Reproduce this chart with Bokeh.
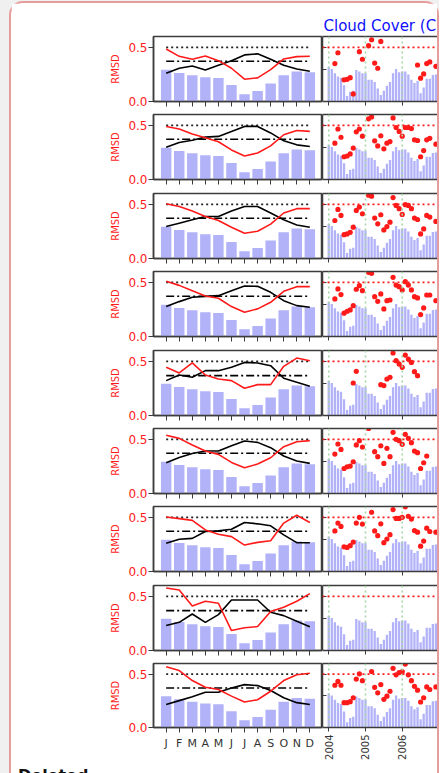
import math
from bokeh.plotting import figure
from bokeh.layouts import column, row
from bokeh.models import FixedTicker, Span, NumeralTickFormatter, LinearAxis, Title, Div
from bokeh.embed import file_html
from bokeh.resources import INLINE

nan = float("nan")

# ---------------- data ----------------
title_text = "Cloud Cover (C"
footer_text = "Deleted"
months = ["J", "F", "M", "A", "M", "J", "J", "A", "S", "O", "N", "D"]
month_index = list(range(1, 13))
month_bars = [0.294, 0.264, 0.242, 0.224, 0.218, 0.153, 0.067, 0.098, 0.166, 0.242, 0.276, 0.270]
threshold = 0.5
dashdot_levels = [0.371, 0.372, 0.372, 0.372, 0.368, 0.372, 0.372, 0.368, 0.370]

rmsd_monthly = [
    [0.485, 0.417, 0.390, 0.420, 0.377, 0.307, 0.206, 0.218, 0.294, 0.393, 0.414, 0.417],
    [0.490, 0.466, 0.420, 0.385, 0.348, 0.273, 0.217, 0.245, 0.310, 0.413, 0.453, 0.444],
    [0.506, 0.480, 0.438, 0.388, 0.350, 0.289, 0.233, 0.252, 0.317, 0.420, 0.460, 0.460],
    [0.509, 0.472, 0.423, 0.374, 0.353, 0.276, 0.224, 0.255, 0.316, 0.417, 0.460, 0.460],
    [0.445, 0.393, 0.485, 0.374, 0.337, 0.322, 0.252, 0.285, 0.285, 0.454, 0.530, 0.506],
    [0.537, 0.509, 0.448, 0.392, 0.361, 0.287, 0.238, 0.272, 0.330, 0.432, 0.478, 0.488],
    [0.503, 0.488, 0.472, 0.384, 0.344, 0.322, 0.244, 0.269, 0.284, 0.447, 0.519, 0.453],
    [0.577, 0.558, 0.411, 0.454, 0.436, 0.184, 0.210, 0.221, 0.360, 0.400, 0.455, 0.525],
    [0.570, 0.534, 0.440, 0.377, 0.356, 0.294, 0.239, 0.260, 0.340, 0.440, 0.494, 0.509],
]
other_monthly = [
    [0.260, 0.307, 0.328, 0.290, 0.334, 0.377, 0.430, 0.440, 0.390, 0.334, 0.300, 0.280],
    [0.298, 0.342, 0.363, 0.391, 0.398, 0.444, 0.490, 0.490, 0.430, 0.357, 0.320, 0.304],
    [0.295, 0.326, 0.357, 0.388, 0.388, 0.438, 0.480, 0.480, 0.420, 0.357, 0.310, 0.289],
    [0.276, 0.322, 0.362, 0.370, 0.377, 0.423, 0.466, 0.463, 0.408, 0.331, 0.285, 0.270],
    [0.322, 0.374, 0.353, 0.414, 0.414, 0.445, 0.490, 0.485, 0.460, 0.344, 0.307, 0.270],
    [0.284, 0.333, 0.370, 0.392, 0.392, 0.441, 0.485, 0.472, 0.423, 0.346, 0.300, 0.278],
    [0.260, 0.297, 0.306, 0.369, 0.375, 0.390, 0.453, 0.440, 0.422, 0.338, 0.266, 0.266],
    [0.230, 0.260, 0.337, 0.260, 0.331, 0.466, 0.466, 0.466, 0.353, 0.322, 0.270, 0.220],
    [0.215, 0.252, 0.288, 0.331, 0.331, 0.371, 0.402, 0.393, 0.347, 0.279, 0.233, 0.215],
]

start_year = 2004
year_ticks = [2004, 2005, 2006, 2007]
right_yticks = [0.3, 0.5]
ts_bars = [
    0.32, 0.30, 0.26, 0.23, 0.22, 0.15, 0.05, 0.09, 0.10, 0.29, 0.276, 0.26,
    0.26, 0.20, 0.20, 0.18, 0.12, 0.06, 0.10, 0.145, 0.18, 0.26, 0.30, 0.27,
    0.276, 0.276, 0.25, 0.20, 0.17, 0.19, 0.077, 0.13, 0.21, 0.21, 0.245, 0.25,
]
rmsd_ts = [
    [nan, nan, 0.350, 0.450, nan, 0.200, 0.205, 0.220, 0.070, nan, 0.460, 0.390,
     nan, 0.515, 0.570, 0.355, 0.307, 0.555, nan, nan, nan, nan, nan, nan,
     nan, nan, nan, nan, nan, 0.337, 0.215, 0.255, 0.350, 0.365, nan, 0.325],
    [nan, nan, 0.335, 0.466, 0.390, 0.210, 0.217, 0.236, 0.290, 0.440, 0.466, 0.400,
     nan, 0.560, 0.578, 0.357, 0.310, 0.404, 0.283, 0.335, 0.350, 0.568, 0.480, 0.444,
     0.400, 0.480, 0.480, 0.470, 0.366, 0.360, 0.210, 0.267, 0.366, 0.380, nan, 0.326],
    [nan, nan, 0.351, 0.453, 0.398, 0.220, 0.227, 0.242, 0.289, 0.444, 0.475, 0.413,
     nan, 0.584, 0.575, 0.373, 0.320, 0.404, 0.264, 0.295, 0.335, 0.562, 0.490, 0.460,
     0.407, 0.497, 0.490, 0.460, 0.373, 0.360, 0.227, 0.273, 0.398, 0.382, nan, 0.342],
    [nan, nan, 0.347, 0.439, 0.387, 0.215, 0.233, 0.245, 0.285, 0.436, 0.469, 0.423,
     nan, 0.592, 0.583, 0.368, 0.325, 0.393, 0.255, 0.331, 0.337, 0.546, 0.475, 0.460,
     0.430, 0.506, 0.475, 0.430, 0.368, 0.356, 0.202, 0.264, 0.383, 0.383, nan, 0.331],
    [nan, nan, nan, nan, nan, nan, nan, nan, 0.300, 0.408, nan, nan,
     nan, nan, nan, nan, nan, 0.285, 0.276, 0.337, 0.353, 0.577, 0.506, 0.475,
     0.445, 0.558, 0.521, 0.490, 0.405, 0.368, nan, nan, nan, nan, nan, nan],
    [nan, nan, 0.364, 0.457, 0.407, 0.231, 0.247, 0.253, 0.293, 0.448, 0.488, 0.429,
     nan, 0.600, nan, 0.386, 0.340, 0.441, 0.278, 0.417, 0.340, 0.565, 0.500, 0.488,
     0.454, 0.546, 0.509, 0.469, 0.392, 0.377, 0.231, 0.284, 0.346, nan, nan, nan],
    [nan, nan, 0.375, 0.447, 0.416, 0.228, 0.222, 0.238, 0.272, 0.447, 0.500, 0.438,
     nan, nan, 0.547, 0.375, 0.331, 0.440, 0.266, 0.300, 0.340, 0.572, 0.490, 0.490,
     0.500, 0.597, 0.510, 0.484, 0.378, 0.363, 0.234, 0.281, 0.400, 0.369, nan, 0.363],
    [nan] * 36,
    [nan, nan, 0.396, 0.432, 0.396, 0.233, 0.233, 0.242, 0.279, 0.454, 0.503, 0.439,
     nan, nan, 0.525, 0.377, 0.325, 0.402, 0.264, 0.294, 0.340, 0.555, 0.494, 0.515,
     0.525, 0.595, 0.494, 0.439, 0.386, 0.350, 0.239, 0.279, 0.380, 0.356, nan, 0.380],
]

# ---------------- style ----------------
FONT = "DejaVu Sans"
AX = "#3c3c3c"
RED = "#ff1a1a"
BAR = "#b2b2f8"
N = len(rmsd_monthly)
ts_x = [start_year + i / 12 for i in range(len(ts_bars))]

content_top = 3
frame_h = 65
gap_top = 2
frame_tops = [round(36 + 78.4 * i) for i in range(N)]


def style_common(p):
    p.outline_line_color = AX
    p.outline_line_width = 1.5
    p.xgrid.visible = False
    p.ygrid.visible = False
    p.background_fill_color = "white"
    p.border_fill_color = "white"


def tick_style(ax):
    ax.axis_line_color = AX
    ax.axis_line_width = 1.5
    ax.major_tick_line_color = AX
    ax.minor_tick_line_color = AX
    ax.minor_tick_line_width = 1
    ax.major_tick_line_width = 1
    ax.major_tick_in = 0
    ax.minor_tick_in = 0
    ax.minor_tick_out = 0


rows = []
for i in range(N):
    top = frame_tops[0] - content_top if i == 0 else gap_top
    if i < N - 1:
        bottom = (frame_tops[i + 1] - gap_top) - (frame_tops[i] + frame_h)
    else:
        bottom = 34
    h = top + frame_h + bottom
    last = i == N - 1

    # ---- left (monthly climatology) ----
    lp = figure(width=311, height=h, x_range=(0.03, 12.97), y_range=(0, 0.6),
                output_backend="svg", toolbar_location=None,
                min_border_left=142, min_border_right=0,
                min_border_top=top, min_border_bottom=bottom)
    style_common(lp)
    lp.vbar(x=month_index, top=month_bars, width=0.8, fill_color=BAR, line_color=None)
    lp.line(x=[month_index[0], month_index[-1]], y=[threshold, threshold],
            line_color="#222222", line_width=1.6, line_dash="2 3")
    lp.line(x=[month_index[0], month_index[-1]], y=[dashdot_levels[i]] * 2,
            line_color="black", line_width=1.6, line_dash="8 3 2 3")
    lp.line(x=month_index, y=other_monthly[i], line_color="black", line_width=1.6)
    lp.line(x=month_index, y=rmsd_monthly[i], line_color=RED, line_width=1.6)

    ya = lp.yaxis[0]
    tick_style(ya)
    ya.ticker = FixedTicker(ticks=[0.0, 0.5])
    ya.formatter = NumeralTickFormatter(format="0.0")
    ya.major_tick_out = 5
    ya.major_label_text_color = RED
    ya.major_label_text_font = FONT
    ya.major_label_text_font_size = "12px"
    ya.major_label_standoff = 1
    ya.axis_label = "RMSD"
    ya.axis_label_text_color = RED
    ya.axis_label_text_font = FONT
    ya.axis_label_text_font_size = "10px"
    ya.axis_label_text_font_style = "normal"
    ya.axis_label_standoff = 4

    xa = lp.xaxis[0]
    tick_style(xa)
    if last:
        xa.ticker = FixedTicker(ticks=month_index)
        xa.major_label_overrides = {m: lab for m, lab in zip(month_index, months)}
        xa.major_tick_out = 5
        xa.major_label_text_font = FONT
        xa.major_label_text_color = "#333333"
        xa.major_label_text_font_size = "11px"
        xa.major_label_standoff = 4
    else:
        xa.ticker = FixedTicker(ticks=[], minor_ticks=month_index)
        xa.minor_tick_out = 5

    # ---- right (time series) ----
    rp = figure(width=115, height=h, x_range=(2003.83, 2006.96), y_range=(0, 0.6),
                output_backend="svg", toolbar_location=None,
                min_border_left=0, min_border_right=0,
                min_border_top=top, min_border_bottom=bottom)
    style_common(rp)
    rp.outline_line_color = None
    rp.vbar(x=ts_x, top=ts_bars, width=0.75 / 12, fill_color=BAR, line_color=None)
    for yr in year_ticks:
        rp.add_layout(Span(location=yr, dimension="height", line_color="#a6d6a6",
                           line_width=1.6, line_dash="2 3"))
    rp.add_layout(Span(location=threshold, dimension="width", line_color=RED,
                       line_width=1.6, line_dash="2 3"))
    rp.scatter(x=ts_x, y=rmsd_ts[i], size=5.2, fill_color=RED, line_color=None)

    rya = rp.yaxis[0]
    tick_style(rya)
    rya.ticker = FixedTicker(ticks=[], minor_ticks=right_yticks)
    rya.major_tick_out = 0
    rya.minor_tick_in = 4

    rxa = rp.xaxis[0]
    tick_style(rxa)
    if last:
        rxa.ticker = FixedTicker(ticks=year_ticks)
        rxa.major_tick_out = 4
        rxa.major_label_text_font = FONT
        rxa.major_label_text_color = "#333333"
        rxa.major_label_text_font_size = "10px"
        rxa.major_label_orientation = math.pi / 2
        rxa.major_label_standoff = 3
    else:
        rxa.ticker = FixedTicker(ticks=[], minor_ticks=year_ticks)
        rxa.minor_tick_out = 4

    top_ax = LinearAxis(ticker=FixedTicker(ticks=[]), major_tick_in=0, major_tick_out=0,
                        minor_tick_in=0, minor_tick_out=0,
                        axis_line_color=AX, axis_line_width=1.5)
    rp.add_layout(top_ax, "above")

    if i == 0:
        t = Title(text=title_text, align="left", text_color="#1010ff",
                  text_font=FONT, text_font_size="15px", text_font_style="normal",
                  standoff=4, offset=1)
        rp.add_layout(t, "above")

    rows.append(row(lp, rp))

footer = Div(text=footer_text, width=200, height=20, styles={
    "font-family": FONT, "font-weight": "bold", "font-size": "16px",
    "color": "#111111", "margin-left": "7px", "line-height": "18px",
})
rows.append(footer)

card = column(*rows, styles={
    "margin-left": "9px",
    "margin-top": "1px",
    "border": "2px solid #e79c9c",
    "border-bottom": "none",
    "border-radius": "14px 14px 0 0",
    "background": "white",
})

page = column(card, styles={"background-color": "#f0f0f0", "height": "773px",
                            "overflow": "hidden"})

open("out.html", "w").write(file_html(page, INLINE))
